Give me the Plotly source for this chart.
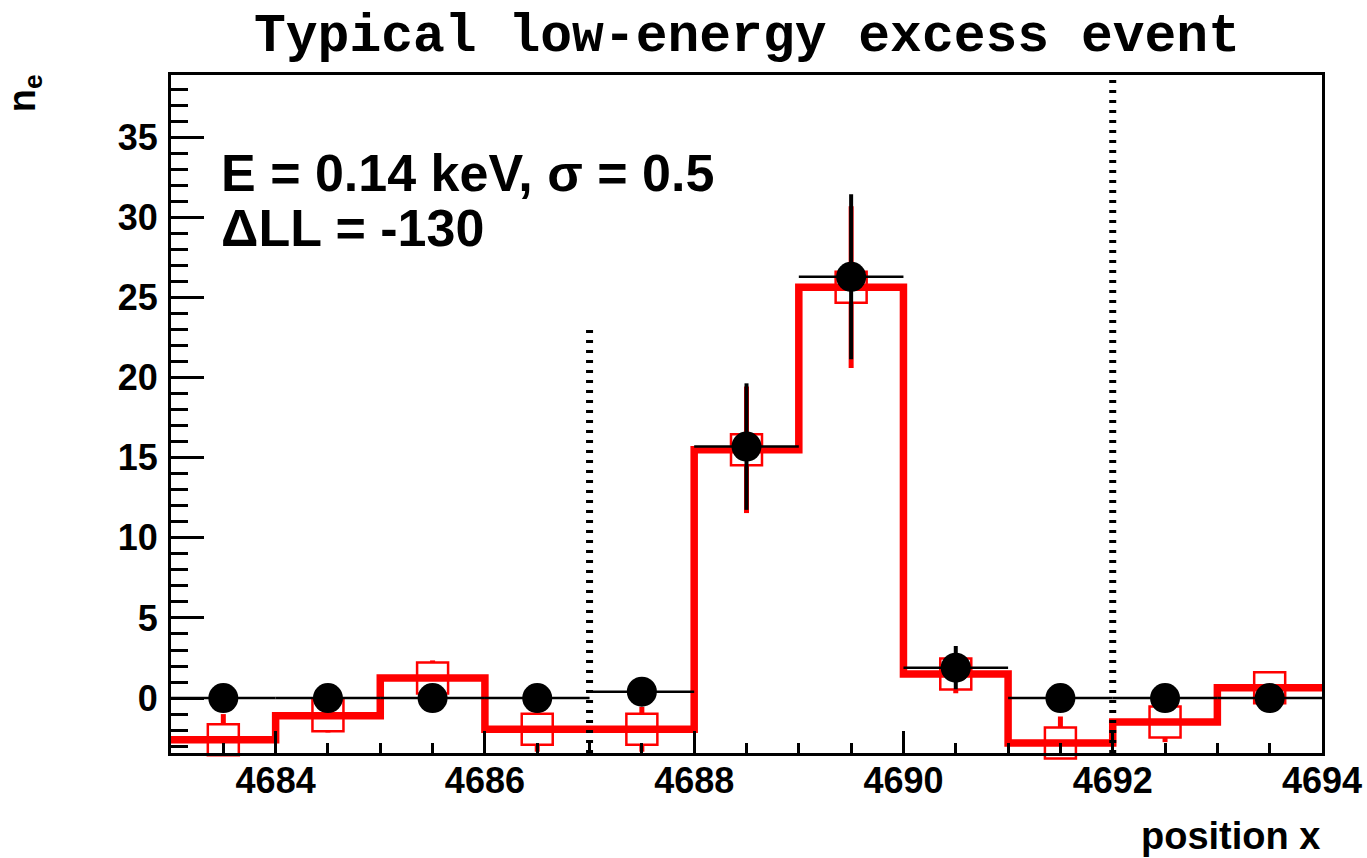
import plotly.graph_objects as go

# ---- data ----
bin_edges = [4683, 4684, 4685, 4686, 4687, 4688, 4689, 4690, 4691, 4692, 4693, 4694]
bin_centers = [4683.5, 4684.5, 4685.5, 4686.5, 4687.5, 4688.5, 4689.5, 4690.5, 4691.5, 4692.5, 4693.5]
bin_half_width = [0.5] * 11

data_ne = [0, 0, 0, 0, 0.4, 15.7, 26.3, 1.9, 0, 0, 0]
data_err = [0, 0, 0, 0, 0.63, 3.95, 5.15, 1.35, 0, 0, 0]

model_ne = [-2.6, -1.1, 1.25, -1.95, -1.95, 15.5, 25.65, 1.5, -2.8, -1.5, 0.65]
model_err = [1.6, 1.05, 1.1, 1.4, 1.4, 3.95, 5.05, 1.2, 1.65, 1.25, 0.8]

boundary_x = [4687, 4692]
boundary_top = [23.4, 38.9]

x_range = [4683, 4694]
y_range = [-3.43, 38.9]

title_text = "Typical low-energy excess event"
info_line1 = "E = 0.14 keV, σ = 0.5"
info_line2 = "ΔLL = -130"
x_title = "position x"
y_title = "n<sub>e</sub>"

BOLD = dict(family="Liberation Sans", color="black", weight="bold")

fig = go.Figure()

# red squares with error bars (white inside so the bar does not cross the square)
fig.add_trace(go.Scatter(
    x=bin_centers, y=model_ne, mode="markers",
    marker=dict(symbol="square", size=31, color="white", line=dict(width=2.5, color="#ff0000")),
    error_y=dict(type="data", array=model_err, color="#ff0000", thickness=5, width=0),
    cliponaxis=False, showlegend=False))

# red step histogram (model)
fig.add_trace(go.Scatter(
    x=bin_edges, y=model_ne + [model_ne[-1]],
    mode="lines", line=dict(color="#ff0000", width=7.5, shape="hv"),
    showlegend=False, hoverinfo="skip"))

# black data points
fig.add_trace(go.Scatter(
    x=bin_centers, y=data_ne, mode="markers",
    marker=dict(symbol="circle", size=30, color="black"),
    error_y=dict(type="data", array=data_err, color="black", thickness=4, width=0),
    error_x=dict(type="data", array=bin_half_width, color="black", thickness=2.5, width=0),
    cliponaxis=False, showlegend=False))

# dotted boundary lines
for bx, bt in zip(boundary_x, boundary_top):
    fig.add_trace(go.Scatter(
        x=[bx, bx], y=[y_range[0], bt], mode="lines",
        line=dict(color="black", width=7, dash="3px,7px"),
        showlegend=False, hoverinfo="skip"))

axis_common = dict(
    showline=True, linecolor="black", linewidth=3, mirror=True, automargin=False,
    showgrid=False, zeroline=False, ticks="inside", tickcolor="black",
    tickwidth=2.5, tickfont=dict(size=36, **BOLD),
)

fig.update_xaxes(range=x_range, tickmode="linear", tick0=4684, dtick=2, ticklen=22,
                 ticklabelstandoff=-6,
                 minor=dict(ticks="inside", dtick=0.5, ticklen=10, tickwidth=2.5, tickcolor="black"),
                 **axis_common)
fig.update_yaxes(range=y_range, tickmode="linear", tick0=0, dtick=5, ticklen=33,
                 ticklabelstandoff=3,
                 minor=dict(ticks="inside", dtick=1, ticklen=17, tickwidth=2.5, tickcolor="black"),
                 **axis_common)

fig.update_layout(
    width=1367, height=858,
    margin=dict(l=171, r=45, t=75, b=105),
    paper_bgcolor="white", plot_bgcolor="white",
    annotations=[
        dict(text=title_text, xref="paper", yref="paper", x=0.5, y=1.056,
             xanchor="center", yanchor="middle", showarrow=False,
             font=dict(family="Liberation Mono", size=53, color="black", weight="bold")),
        dict(text=info_line1, xref="paper", yref="paper", x=0.042, y=0.855,
             xanchor="left", yanchor="middle", showarrow=False, font=dict(size=52, **BOLD)),
        dict(text=info_line2, xref="paper", yref="paper", x=0.042, y=0.774,
             xanchor="left", yanchor="middle", showarrow=False, font=dict(size=52, **BOLD)),
        dict(text=x_title, xref="paper", yref="paper", x=1.0, y=-0.157,
             xanchor="right", yanchor="bottom", showarrow=False, font=dict(size=38, **BOLD)),
        dict(text=y_title, xref="paper", yref="paper", x=-0.127, y=0.973,
             xanchor="center", yanchor="middle", showarrow=False, textangle=-90,
             font=dict(size=38, **BOLD)),
    ],
)

fig.write_html("out.html")
